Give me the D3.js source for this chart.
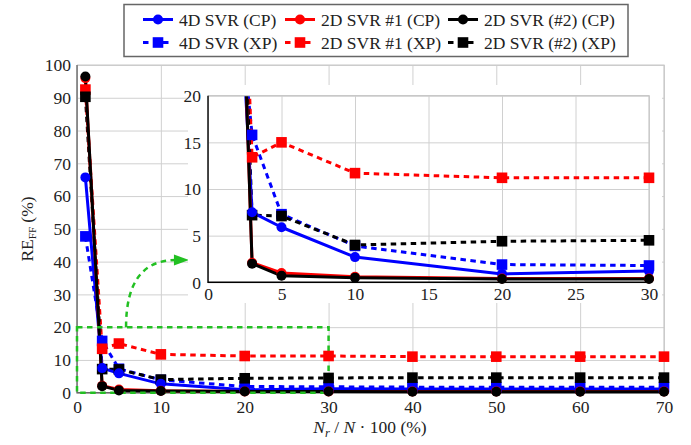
<!DOCTYPE html>
<html><head><meta charset="utf-8">
<script src="https://cdn.jsdelivr.net/npm/d3@7"></script>
<style>
body{margin:0;background:#fff;}
</style></head>
<body><svg id="c" width="691" height="445"></svg>
<script>
const xValues = [1, 3, 5, 10, 20, 30, 40, 50, 60, 70];
const svr4dCP  = [65.7, 7.5, 5.9, 2.7, 0.9, 1.2, 1.1, 1.1, 1.1, 1.1];
const svr4dXP  = [47.7, 15.8, 7.3, 3.9, 1.9, 1.8, 1.7, 1.7, 1.7, 1.7];
const svr2d1CP = [96.0, 2.1, 1.0, 0.6, 0.4, 0.4, 0.4, 0.4, 0.4, 0.4];
const svr2d1XP = [92.5, 13.4, 15.0, 11.7, 11.2, 11.2, 11.0, 11.0, 11.0, 11.0];
const svr2d2CP = [96.5, 2.0, 0.7, 0.5, 0.35, 0.35, 0.3, 0.3, 0.3, 0.3];
const svr2d2XP = [90.3, 7.2, 7.1, 4.0, 4.4, 4.5, 4.6, 4.6, 4.6, 4.6];
const seriesNames = ["4D SVR (CP)", "2D SVR #1 (CP)", "2D SVR (#2) (CP)", "4D SVR (XP)", "2D SVR #1 (XP)", "2D SVR (#2) (XP)"];
const mainXTicks = [0, 10, 20, 30, 40, 50, 60, 70];
const mainYTicks = [0, 10, 20, 30, 40, 50, 60, 70, 80, 90, 100];
const insetXTicks = [0, 5, 10, 15, 20, 25, 30];
const insetYTicks = [0, 5, 10, 15, 20];
const zoomBox = {x0: 0, x1: 30, y0: 0, y1: 20};

const series = [
  {name: seriesNames[3], vals: svr4dXP, color: "#0000ff", dash: true, mark: "square"},
  {name: seriesNames[4], vals: svr2d1XP, color: "#ff0000", dash: true, mark: "square"},
  {name: seriesNames[5], vals: svr2d2XP, color: "#000000", dash: true, mark: "square"},
  {name: seriesNames[0], vals: svr4dCP, color: "#0000ff", dash: false, mark: "circle"},
  {name: seriesNames[1], vals: svr2d1CP, color: "#ff0000", dash: false, mark: "circle"},
  {name: seriesNames[2], vals: svr2d2CP, color: "#000000", dash: false, mark: "circle"},
];
const legendOrder = [3, 4, 5, 0, 1, 2];

const svg = d3.select("#c");
const FONT = "'Liberation Serif', 'DejaVu Serif', 'Times New Roman', serif";
const FS = 17.5;
const DASH = "5.5,4.5";
const GREEN = "#22c022";

const xM = d3.scaleLinear([0, 70], [77, 664]);
const yM = d3.scaleLinear([0, 100], [392.7, 65]);
const xI = d3.scaleLinear([0, 30], [208, 649]);
const yI = d3.scaleLinear([0, 20], [282.3, 95.7]);

function grid(g, xs, ys, xt, yt) {
  const [x0, x1] = xs.range(), [y0, y1] = ys.range();
  g.append("g").attr("transform", `translate(0,${y0})`)
    .call(d3.axisBottom(xs).tickValues(xt).tickSize(-(y0 - y1)).tickFormat(""))
    .call(a => a.select(".domain").remove())
    .selectAll("line").attr("stroke", "#d0d0d0").attr("stroke-width", 1);
  g.append("g").attr("transform", `translate(${x0},0)`)
    .call(d3.axisLeft(ys).tickValues(yt).tickSize(-(x1 - x0)).tickFormat(""))
    .call(a => a.select(".domain").remove())
    .selectAll("line").attr("stroke", "#d0d0d0").attr("stroke-width", 1);
}
function frame(g, xs, ys, axisColor) {
  const [x0, x1] = xs.range(), [y0, y1] = ys.range();
  g.append("path").attr("d", `M${x0},${y1}H${x1}V${y0}`).attr("fill", "none").attr("stroke", "#c8c8c8").attr("stroke-width", 1.2);
  g.append("path").attr("d", `M${x0},${y1}V${y0}H${x1}`).attr("fill", "none").attr("stroke", axisColor).attr("stroke-width", 1.4);
}
function tickLabels(g, xs, ys, xt, yt, xBase, yRight) {
  const ax = g.append("g").attr("transform", `translate(0,${xBase})`)
    .call(d3.axisBottom(xs).tickValues(xt).tickSize(0).tickPadding(0).tickFormat(d3.format("d")));
  ax.attr("font-family", FONT).attr("font-size", FS);
  ax.select(".domain").remove();
  ax.selectAll("text").attr("dy", 0).attr("y", 0).attr("fill", "#222");
  const ay = g.append("g").attr("transform", `translate(${yRight},0)`)
    .call(d3.axisLeft(ys).tickValues(yt).tickSize(0).tickPadding(0).tickFormat(d3.format("d")));
  ay.attr("font-family", FONT).attr("font-size", FS);
  ay.select(".domain").remove();
  ay.selectAll("text").attr("dy", "0.33em").attr("x", 0).attr("fill", "#222");
}
function drawLines(g, xs, ys) {
  const line = d3.line().x((d, i) => xs(xValues[i])).y(d => ys(d));
  series.forEach(s => {
    g.append("path").attr("d", line(s.vals)).attr("fill", "none")
      .attr("stroke", s.color).attr("stroke-width", 3)
      .attr("stroke-dasharray", s.dash ? DASH : null).attr("stroke-linejoin", "round");
  });
}
function drawMarker(g, shape, cx, cy, color) {
  if (shape === "circle") g.append("circle").attr("cx", cx).attr("cy", cy).attr("r", 5).attr("fill", color);
  else g.append("rect").attr("x", cx - 5.3).attr("y", cy - 5.3).attr("width", 10.6).attr("height", 10.6).attr("fill", color);
}
function drawMarkers(g, xs, ys, xmax, ymax) {
  series.forEach(s => {
    s.vals.forEach((v, i) => {
      if (xValues[i] <= xmax && v <= ymax) drawMarker(g, s.mark, xs(xValues[i]), ys(v), s.color);
    });
  });
}

// main plot
const main = svg.append("g");
grid(main, xM, yM, mainXTicks, mainYTicks);
frame(main, xM, yM, "#6a6a6a");
drawLines(main, xM, yM);
main.append("rect").attr("x", xM(zoomBox.x0)).attr("y", yM(zoomBox.y1))
  .attr("width", xM(zoomBox.x1) - xM(zoomBox.x0)).attr("height", yM(zoomBox.y0) - yM(zoomBox.y1))
  .attr("fill", "none").attr("stroke", GREEN).attr("stroke-width", 2.5).attr("stroke-dasharray", DASH);
const aStart = [xM(5.85), yM(20)], aCtrl = [xM(5.85), yM(40.5)], aEnd = [xM(11.8), yM(40.5)];
main.append("path").attr("d", `M${aStart[0]},${aStart[1]}Q${aCtrl[0]},${aCtrl[1]} ${aEnd[0]},${aEnd[1]}`)
  .attr("fill", "none").attr("stroke", GREEN).attr("stroke-width", 2.5).attr("stroke-dasharray", DASH);
main.append("path").attr("d", `M${aEnd[0] - 2},${aEnd[1] - 5.5}L${aEnd[0] + 13},${aEnd[1]}L${aEnd[0] - 2},${aEnd[1] + 5.5}Z`).attr("fill", GREEN);
drawMarkers(main, xM, yM, 70, 100);
tickLabels(main, xM, yM, mainXTicks, mainYTicks, 413, 71);

// axis labels
const xl = svg.append("text").attr("x", 370).attr("y", 433).attr("text-anchor", "middle")
  .attr("font-size", FS).attr("font-family", FONT).attr("fill", "#222");
xl.append("tspan").attr("font-style", "italic").text("N");
xl.append("tspan").attr("font-style", "italic").attr("font-size", 12.5).attr("dy", 4).text("r");
xl.append("tspan").attr("dy", -4).text(" / ");
xl.append("tspan").attr("font-style", "italic").text("N");
xl.append("tspan").text(" · 100 (%)");
const yl = svg.append("text").attr("transform", "translate(33,229) rotate(-90)").attr("text-anchor", "middle")
  .attr("font-size", FS).attr("font-family", FONT).attr("fill", "#222");
yl.append("tspan").text("RE");
yl.append("tspan").attr("font-size", 11).attr("dy", 3).text("FF");
yl.append("tspan").attr("dy", -3).text(" (%)");

// inset
const ins = svg.append("g");
ins.append("rect").attr("x", 188).attr("y", 85).attr("width", 474).attr("height", 218).attr("fill", "#fff");
grid(ins, xI, yI, insetXTicks, insetYTicks);
svg.append("clipPath").attr("id", "insClip").append("rect")
  .attr("x", xI(0)).attr("y", yI(20)).attr("width", xI(30) - xI(0)).attr("height", yI(0) - yI(20));
const insData = ins.append("g").attr("clip-path", "url(#insClip)");
drawLines(insData, xI, yI);
frame(ins, xI, yI, "#000");
drawMarkers(ins, xI, yI, 30, 20);
tickLabels(ins, xI, yI, insetXTicks, insetYTicks, 300, 201);

// legend
const lg = svg.append("g");
lg.append("rect").attr("x", 124).attr("y", 4.5).attr("width", 504).attr("height", 52).attr("fill", "#fff").attr("stroke", "#666").attr("stroke-width", 1.5);
const sampleX = [143, 285, 448];
const rowY = [19.5, 42.5];
legendOrder.forEach((si, k) => {
  const s = series[si];
  const col = k % 3, row = Math.floor(k / 3);
  const x0 = sampleX[col], y = rowY[row];
  lg.append("line").attr("x1", x0).attr("x2", x0 + 30).attr("y1", y).attr("y2", y)
    .attr("stroke", s.color).attr("stroke-width", 3).attr("stroke-dasharray", s.dash ? DASH : null);
  drawMarker(lg, s.mark, x0 + 15, y, s.color);
  lg.append("text").attr("x", x0 + 36).attr("y", y + 6).attr("font-size", FS).attr("font-family", FONT).attr("fill", "#222").text(s.name);
});
</script></body></html>
